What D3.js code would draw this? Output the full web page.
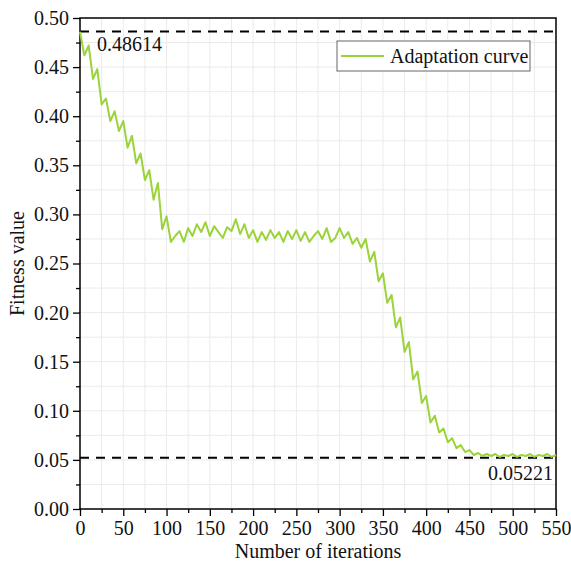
<!DOCTYPE html>
<html lang="en">
<head>
    <meta charset="UTF-8">
    <title>Adaptation curve</title>
    <script src="https://cdn.jsdelivr.net/npm/d3@7"></script>
    <style>
        body { margin: 0; background: #fff; }
    </style>
</head>
<body>
<script>
    // iterations, step 5
    const iterations = d3.range(0, 551, 5);
    // fitness values
    const fitness = [
        0.486, 0.462, 0.472, 0.438, 0.448, 0.412, 0.418, 0.395, 0.405, 0.385,
        0.395, 0.368, 0.380, 0.352, 0.362, 0.335, 0.345, 0.315, 0.332, 0.285,
        0.298, 0.272, 0.278, 0.283, 0.272, 0.286, 0.278, 0.290, 0.282, 0.292,
        0.278, 0.288, 0.282, 0.276, 0.287, 0.283, 0.295, 0.280, 0.290, 0.276,
        0.284, 0.272, 0.282, 0.274, 0.284, 0.276, 0.282, 0.272, 0.283, 0.275,
        0.284, 0.273, 0.282, 0.272, 0.278, 0.283, 0.275, 0.286, 0.272, 0.276,
        0.286, 0.276, 0.282, 0.270, 0.276, 0.266, 0.275, 0.252, 0.262, 0.232,
        0.240, 0.210, 0.218, 0.185, 0.195, 0.160, 0.170, 0.132, 0.140, 0.108,
        0.115, 0.088, 0.095, 0.078, 0.082, 0.068, 0.072, 0.062, 0.065, 0.058,
        0.060, 0.055, 0.057, 0.054, 0.056, 0.054, 0.056, 0.053, 0.055, 0.054,
        0.056, 0.053, 0.055, 0.054, 0.056, 0.053, 0.055, 0.054, 0.056, 0.053,
        0.055
    ];
    const refLines = [0.48614, 0.05221];
    const xTicks = d3.range(0, 551, 50);
    const yTicks = d3.range(0, 0.501, 0.05);

    const width = 571, height = 566;
    const margin = {top: 18, right: 15, bottom: 57, left: 80};
    const fs = '20px';

    const x = d3.scaleLinear().domain([0, 550]).range([margin.left, width - margin.right]);
    const y = d3.scaleLinear().domain([0, 0.5]).range([height - margin.bottom, margin.top]);

    const svg = d3.select('body').append('svg')
        .attr('width', width)
        .attr('height', height)
        .style('font-family', '"Liberation Serif", "Times New Roman", serif');

    // grid
    const grid = svg.append('g').attr('stroke', '#ebebeb').attr('stroke-width', 1);
    grid.selectAll('.gx')
        .data(d3.range(25, 550, 25))
        .enter().append('line')
        .attr('x1', d => x(d)).attr('x2', d => x(d))
        .attr('y1', y(0)).attr('y2', y(0.5));
    grid.selectAll('.gy')
        .data(d3.range(0.025, 0.5, 0.025))
        .enter().append('line')
        .attr('y1', d => y(d)).attr('y2', d => y(d))
        .attr('x1', x(0)).attr('x2', x(550));

    // axes
    svg.append('g')
        .attr('transform', `translate(0,${y(0)})`)
        .call(d3.axisBottom(x).tickValues(xTicks).tickSize(7).tickPadding(5).tickFormat(d3.format('d')));
    svg.append('g')
        .attr('transform', `translate(0,${y(0)})`)
        .call(d3.axisBottom(x).tickValues(d3.range(25, 550, 50)).tickSize(4).tickFormat(''))
        .select('.domain').remove();

    svg.append('g')
        .attr('transform', `translate(${x(0)},0)`)
        .call(d3.axisLeft(y).tickValues(yTicks).tickSize(7).tickPadding(4).tickFormat(d3.format('.2f')));
    svg.append('g')
        .attr('transform', `translate(${x(0)},0)`)
        .call(d3.axisLeft(y).tickValues(d3.range(0.025, 0.5, 0.05)).tickSize(4).tickFormat(''))
        .select('.domain').remove();

    svg.selectAll('.tick line').attr('stroke', '#000').attr('stroke-width', 1.3);
    svg.selectAll('.tick text').attr('fill', '#111').style('font-size', fs)
        .style('font-family', '"Liberation Serif", serif');
    svg.selectAll('.domain').remove();

    // frame
    svg.append('rect')
        .attr('x', x(0)).attr('y', y(0.5))
        .attr('width', x(550) - x(0)).attr('height', y(0) - y(0.5))
        .attr('fill', 'none').attr('stroke', '#000').attr('stroke-width', 1.5);

    // reference lines
    svg.selectAll('.ref')
        .data(refLines)
        .enter().append('line')
        .attr('x1', x(0)).attr('x2', x(550))
        .attr('y1', d => y(d)).attr('y2', d => y(d))
        .attr('stroke', '#000').attr('stroke-width', 2)
        .attr('stroke-dasharray', '9,7');

    // curve
    const line = d3.line()
        .x((d, i) => x(iterations[i]))
        .y(d => y(d));
    svg.append('path')
        .datum(fitness)
        .attr('fill', 'none')
        .attr('stroke', '#9ad33a')
        .attr('stroke-width', 2)
        .attr('stroke-linejoin', 'round')
        .attr('d', line);

    // ref labels
    svg.append('text')
        .attr('x', x(0) + 17).attr('y', y(refLines[0]) + 19)
        .style('font-size', fs).attr('fill', '#111')
        .text(refLines[0].toFixed(5));
    svg.append('text')
        .attr('x', x(550) - 3).attr('y', y(refLines[1]) + 22)
        .attr('text-anchor', 'end')
        .style('font-size', fs).attr('fill', '#111')
        .text(refLines[1].toFixed(5));

    // legend
    const lg = svg.append('g').attr('transform', 'translate(337,41)');
    lg.append('rect')
        .attr('width', 193).attr('height', 30)
        .attr('fill', '#fff').attr('stroke', '#666').attr('stroke-width', 1);
    lg.append('line')
        .attr('x1', 4).attr('x2', 47).attr('y1', 15).attr('y2', 15)
        .attr('stroke', '#9ad33a').attr('stroke-width', 2);
    lg.append('text')
        .attr('x', 53).attr('y', 22)
        .style('font-size', fs).attr('fill', '#111')
        .text('Adaptation curve');

    // axis titles
    svg.append('text')
        .attr('x', (x(0) + x(550)) / 2).attr('y', height - 8)
        .attr('text-anchor', 'middle')
        .style('font-size', fs).attr('fill', '#111')
        .text('Number of iterations');
    svg.append('text')
        .attr('transform', `translate(24,${(y(0) + y(0.5)) / 2}) rotate(-90)`)
        .attr('text-anchor', 'middle')
        .style('font-size', fs).attr('fill', '#111')
        .text('Fitness value');
</script>
</body>
</html>
